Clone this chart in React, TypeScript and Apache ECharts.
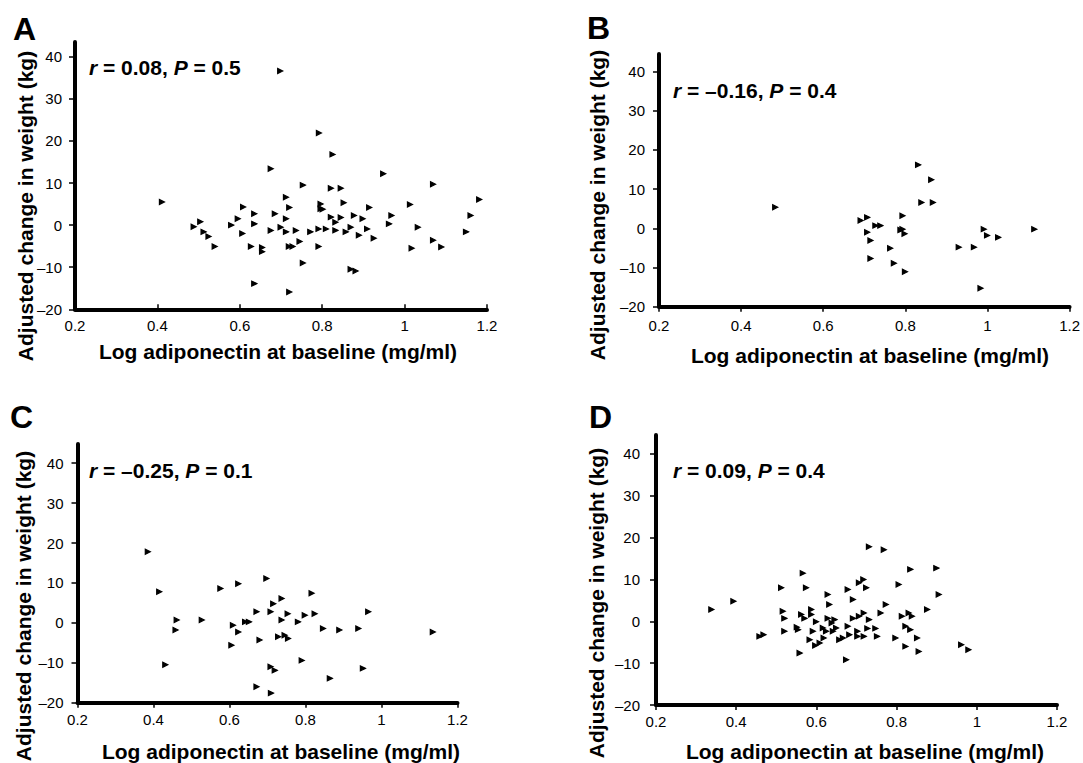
import React, { useEffect, useRef } from 'react';
import * as echarts from 'echarts';

const xTickValues = [0.2, 0.4, 0.6, 0.8, 1, 1.2];
const yTickValues = [-20, -10, 0, 10, 20, 30, 40];

const panelLetters = ['A', 'B', 'C', 'D'];
const statR = ['0.08', '–0.16', '–0.25', '0.09'];
const statP = ['0.5', '0.4', '0.1', '0.4'];
const xAxisTitle = 'Log adiponectin at baseline (mg/ml)';
const yAxisTitle = 'Adjusted change in weight (kg)';

const aX = [0.411,0.698,0.488,0.504,0.512,0.524,0.539,0.579,0.595,0.608,0.606,0.627,0.635,0.635,0.635,0.654,0.654,0.675,0.675,0.685,0.699,0.712,0.712,0.712,0.720,0.720,0.719,0.728,0.736,0.745,0.753,0.753,0.771,0.792,0.791,0.791,0.796,0.796,0.801,0.809,0.821,0.821,0.825,0.832,0.832,0.845,0.845,0.852,0.857,0.869,0.869,0.877,0.881,0.889,0.898,0.909,0.914,0.925,0.948,0.962,0.968,1.013,1.017,1.032,1.069,1.069,1.089,1.149,1.160,1.181];
const aY = [5.5,36.6,-0.4,0.8,-1.6,-2.7,-5.1,0,1.5,4.3,-2.0,-5.1,2.7,0.3,-13.9,-5.3,-6.3,13.4,-1.3,2.7,-0.5,6.6,1.5,-1.6,4.2,-15.9,-5.1,-5.1,-1.3,-3.9,9.5,-9.0,-1.6,21.9,-0.9,-5.1,5.0,3.9,3.75,-0.9,8.75,1.9,16.8,0.7,-1.25,8.75,1.8,5.3,-1.6,-0.5,-10.5,2.3,-10.9,-2.4,1.5,-0.9,4.2,-3.1,12.2,0.3,2.3,4.9,-5.5,-0.5,9.7,-3.6,-5.2,-1.6,2.3,6.1];

const bX = [0.483,0.691,0.707,0.707,0.715,0.715,0.727,0.739,0.763,0.772,0.788,0.793,0.793,0.798,0.799,0.831,0.839,0.863,0.867,0.930,0.967,0.983,0.991,0.999,1.026,1.114];
const bY = [5.4,2.0,2.8,-1.0,-3.1,-7.7,0.7,0.7,-5.1,-8.9,-0.4,3.2,-0.2,-1.4,-11.1,16.2,6.6,12.4,6.6,-4.8,-4.8,-15.3,-0.2,-1.8,-2.3,-0.2];

const cX = [0.385,0.415,0.431,0.458,0.461,0.527,0.576,0.623,0.605,0.609,0.623,0.641,0.651,0.671,0.671,0.679,0.697,0.708,0.708,0.715,0.719,0.709,0.728,0.737,0.737,0.745,0.753,0.754,0.780,0.790,0.798,0.816,0.824,0.846,0.864,0.889,0.939,0.951,0.965,1.135];
const cY = [17.8,7.8,-10.5,-1.8,0.7,0.7,8.6,9.8,-5.6,-0.6,-2.3,0.25,0.25,2.8,-16.0,-4.3,11.1,2.8,-11.0,4.8,-11.9,-17.6,-3.5,6.1,0.7,-3.1,2.3,-3.9,0.25,-9.4,1.9,7.4,2.3,-1.4,-13.9,-1.8,-1.4,-11.4,2.8,-2.3];

const dX = [0.338,0.393,0.458,0.468,0.512,0.516,0.520,0.520,0.551,0.554,0.558,0.566,0.562,0.570,0.574,0.583,0.587,0.587,0.591,0.599,0.597,0.608,0.616,0.618,0.624,0.628,0.628,0.632,0.638,0.641,0.645,0.649,0.657,0.666,0.674,0.678,0.678,0.682,0.691,0.691,0.702,0.702,0.706,0.706,0.717,0.718,0.718,0.724,0.727,0.731,0.731,0.747,0.751,0.760,0.768,0.773,0.797,0.805,0.813,0.822,0.822,0.830,0.834,0.834,0.838,0.851,0.855,0.876,0.899,0.905,0.961,0.979];
const dY = [2.8,4.8,-3.6,-3.2,8.0,2.4,0.7,-2.4,-1.4,-2.0,-7.6,11.5,1.6,0.7,8.0,-4.4,2.8,1.6,-2.4,-0.1,-5.8,-5.2,-1.6,-4.0,-2.4,6.4,0.7,4.0,-0.4,-2.4,0.4,-1.6,-4.4,-4.0,-9.2,7.6,-1.2,-3.2,5.2,0.7,-2.4,-3.6,9.2,1.2,10.0,2.0,-3.6,8.0,-1.7,17.8,0.4,-1.7,-3.6,2.0,17.1,4.0,-4.0,8.8,1.2,-1.2,-6.0,2.0,12.4,-2.0,1.2,-4.0,-7.2,2.8,12.7,6.4,-5.6,-6.8];

const seriesX = [aX, bX, cX, dX];
const seriesY = [aY, bY, cY, dY];

const FONT = '"Liberation Sans", Arial, Helvetica, sans-serif';

// layout per panel
const layout = [
  { left: 75, top: 42, width: 412, height: 267.3, yMax: 43.5, xInside: true, xMargin: 9, yMargin: 13,
    letter: [13, 28.5], stat: [89, 67.5], yName: [25, 206], xName: [278, 351] },
  { left: 659, top: 54, width: 413, height: 252.7, yMax: 44.5, xInside: false, xMargin: 11, yMargin: 14,
    letter: [587, 28], stat: [673, 90], yName: [597, 205], xName: [870, 355] },
  { left: 77.5, top: 444, width: 380, height: 258.7, yMax: 44.8, xInside: false, xMargin: 9, yMargin: 14,
    letter: [10, 416.5], stat: [89, 470.5], yName: [23, 606], xName: [281, 751] },
  { left: 656, top: 435, width: 401, height: 270, yMax: 44.5, xInside: false, xMargin: 9, yMargin: 16,
    letter: [589, 416.5], stat: [673, 470.5], yName: [596, 603], xName: [865, 751] },
];

const fmtY = (v: number) => (v < 0 ? '–' + Math.abs(v) : String(v));

export default function App() {
  const ref = useRef<HTMLDivElement>(null);
  useEffect(() => {
    if (!ref.current) return;
    const chart = echarts.init(ref.current, null, { renderer: 'svg' });
    const grids: any[] = [];
    const xAxes: any[] = [];
    const yAxes: any[] = [];
    const series: any[] = [];
    const graphics: any[] = [];
    const axisLineStyle = { color: '#000', width: 4, opacity: 1 };
    layout.forEach((L, i) => {
      grids.push({ left: L.left, top: L.top, width: L.width, height: L.height, containLabel: false, show: false });
      xAxes.push({
        type: 'value', gridIndex: i, min: 0.2, max: 1.2, interval: 0.2,
        splitLine: { show: false },
        axisLine: { show: true, onZero: false, lineStyle: axisLineStyle },
        axisTick: { show: true, inside: L.xInside, length: 5, lineStyle: { color: '#000', width: 1.5 } },
        axisLabel: { color: '#000', fontSize: 15, fontFamily: FONT, margin: L.xMargin, customValues: xTickValues },
      });
      yAxes.push({
        type: 'value', gridIndex: i, min: -20, max: L.yMax, interval: 10,
        splitLine: { show: false },
        axisLine: { show: true, onZero: false, lineStyle: axisLineStyle },
        axisTick: { show: true, length: 6, lineStyle: { color: '#000', width: 1.5 }, customValues: yTickValues },
        axisLabel: { color: '#000', fontSize: 15, fontFamily: FONT, margin: L.yMargin, customValues: yTickValues, formatter: fmtY },
      });
      series.push({
        type: 'scatter', xAxisIndex: i, yAxisIndex: i,
        symbol: 'triangle', symbolSize: 5, symbolRotate: -90,
        itemStyle: { color: '#000', borderColor: '#000', borderWidth: 1.2, opacity: 1 },
        data: seriesX[i].map((x, k) => [x, seriesY[i][k]]),
      });
      graphics.push({
        type: 'text', x: L.letter[0], y: L.letter[1],
        style: { text: panelLetters[i], font: `bold 32px ${FONT}`, fill: '#000', verticalAlign: 'middle', align: 'left' },
      });
      graphics.push({
        type: 'text', x: L.stat[0], y: L.stat[1],
        style: {
          text: `{i|r} = ${statR[i]}, {i|P} = ${statP[i]}`,
          font: `bold 21px ${FONT}`, fill: '#000', verticalAlign: 'middle', align: 'left',
          rich: { i: { fontStyle: 'italic', fontWeight: 'bold', fontSize: 21, fontFamily: FONT, fill: '#000' } },
        },
      });
      graphics.push({
        type: 'text', x: L.yName[0], y: L.yName[1], rotation: Math.PI / 2,
        style: { text: yAxisTitle, font: `bold 21px ${FONT}`, fill: '#000', align: 'center', verticalAlign: 'middle' },
      });
      graphics.push({
        type: 'text', x: L.xName[0], y: L.xName[1],
        style: { text: xAxisTitle, font: `bold 21px ${FONT}`, fill: '#000', align: 'center', verticalAlign: 'middle' },
      });
    });
    chart.setOption({
      animation: false,
      backgroundColor: '#fff',
      grid: grids,
      xAxis: xAxes,
      yAxis: yAxes,
      series,
      graphic: graphics,
    });
    return () => chart.dispose();
  }, []);
  return <div ref={ref} style={{ position: 'fixed', left: 0, top: 0, width: 1083, height: 763 }} />;
}
